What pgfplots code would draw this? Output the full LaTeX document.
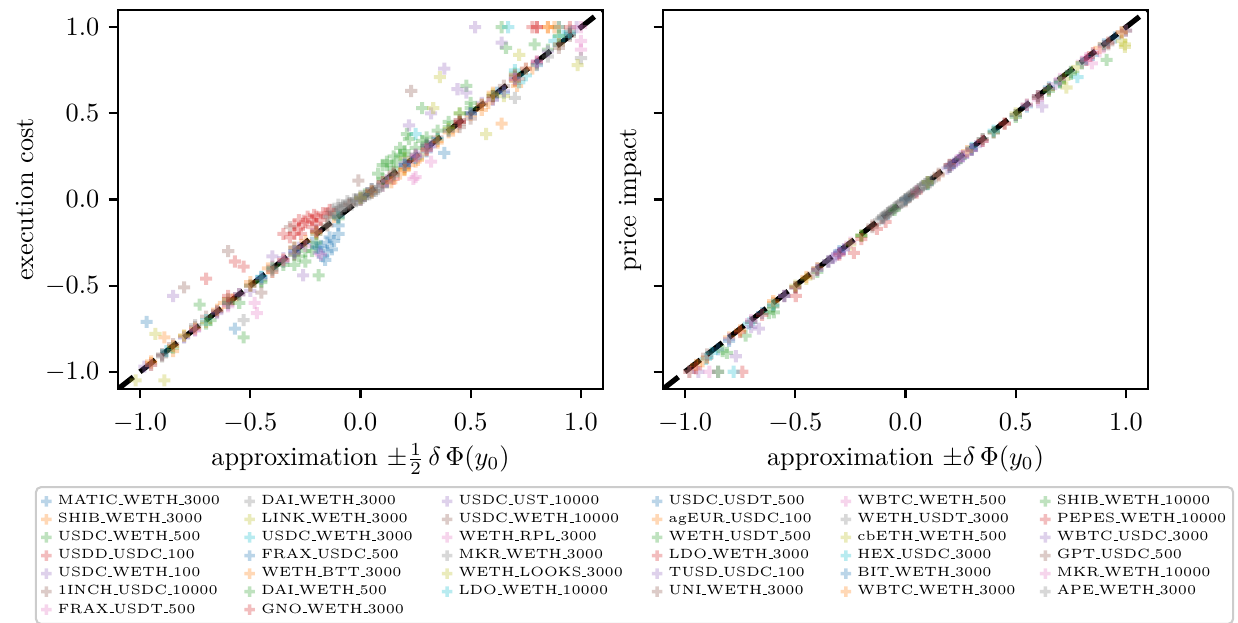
\documentclass[border=0pt]{standalone}
\usepackage{pgfplots}
\pgfplotsset{compat=1.18}
\DeclareRobustCommand{\_}{\leavevmode\kern.06em\vbox{\hrule width.3em}}
\definecolor{tabblue}{HTML}{1F77B4}
\definecolor{taborange}{HTML}{FF7F0E}
\definecolor{tabgreen}{HTML}{2CA02C}
\definecolor{tabred}{HTML}{D62728}
\definecolor{tabpurple}{HTML}{9467BD}
\definecolor{tabbrown}{HTML}{8C564B}
\definecolor{tabpink}{HTML}{E377C2}
\definecolor{tabgray}{HTML}{7F7F7F}
\definecolor{tabolive}{HTML}{BCBD22}
\definecolor{tabcyan}{HTML}{17BECF}
\pgfdeclareplotmark{Pplus}{%
  \pgfpathmoveto{\pgfpoint{-0.333\pgfplotmarksize}{-\pgfplotmarksize}}%
  \pgfpathlineto{\pgfpoint{0.333\pgfplotmarksize}{-\pgfplotmarksize}}%
  \pgfpathlineto{\pgfpoint{0.333\pgfplotmarksize}{-0.333\pgfplotmarksize}}%
  \pgfpathlineto{\pgfpoint{\pgfplotmarksize}{-0.333\pgfplotmarksize}}%
  \pgfpathlineto{\pgfpoint{\pgfplotmarksize}{0.333\pgfplotmarksize}}%
  \pgfpathlineto{\pgfpoint{0.333\pgfplotmarksize}{0.333\pgfplotmarksize}}%
  \pgfpathlineto{\pgfpoint{0.333\pgfplotmarksize}{\pgfplotmarksize}}%
  \pgfpathlineto{\pgfpoint{-0.333\pgfplotmarksize}{\pgfplotmarksize}}%
  \pgfpathlineto{\pgfpoint{-0.333\pgfplotmarksize}{0.333\pgfplotmarksize}}%
  \pgfpathlineto{\pgfpoint{-\pgfplotmarksize}{0.333\pgfplotmarksize}}%
  \pgfpathlineto{\pgfpoint{-\pgfplotmarksize}{-0.333\pgfplotmarksize}}%
  \pgfpathlineto{\pgfpoint{-0.333\pgfplotmarksize}{-0.333\pgfplotmarksize}}%
  \pgfpathclose
  \pgfusepathqfill
}
\pgfplotsset{
  P/.style={only marks, mark=Pplus, mark size=2.3pt, color=#1, fill opacity=0.3, draw opacity=0.3},
  myax/.style={scale only axis, width=184.5pt, height=144.18pt,
    xmin=-1.1, xmax=1.1, ymin=-1.1, ymax=1.1,
    xtick={-1,-0.5,0,0.5,1}, ytick={-1,-0.5,0,0.5,1},
    tick align=outside, tick pos=left, major tick length=3.6pt,
    every tick/.append style={black, line width=0.8pt},
    axis line style={line width=0.8pt},
    xticklabel style={yshift=-2.3pt},
    /pgf/number format/fixed, /pgf/number format/fixed zerofill, /pgf/number format/precision=1},
  diag/.style={forget plot, black, line width=2pt, dash pattern=on 7.4pt off 3.2pt},
}
\begin{document}
\begin{tikzpicture}
\begin{axis}[name=L, at={(0pt,0pt)}, anchor=south west, myax,
  ylabel={execution cost},
  xlabel={approximation $\pm\frac{1}{2}\,\delta\,\Phi(y_0)$},
  ylabel style={at={(axis description cs:-0.192,0.5)}, anchor=center},
  xlabel style={at={(axis description cs:0.5,-0.203)}, anchor=base},
  legend columns=7, transpose legend,
  legend image code/.code={\draw[#1, mark size=2pt] plot coordinates {(0.13cm,0cm)};},
  legend style={at={(1.065,-0.256)}, anchor=north, font=\fontsize{5.1}{6}\selectfont,
    draw=black!20, line width=0.8pt, rounded corners=2pt, fill=white,
    inner xsep=2pt, inner ysep=2pt,
    /tikz/every even column/.append style={column sep=8.7pt},
    /tikz/every odd column/.append style={column sep=1.8pt},
    cells={anchor=west},
    nodes={inner sep=0.6pt, text height=4.1pt, text depth=1.57pt}},
]
\addplot[P=tabblue] coordinates {(-0.17,-0.33)(-0.15,-0.30)(-0.13,-0.29)(-0.18,-0.27)(-0.12,-0.24)(-0.16,-0.35)(-0.20,-0.28)(-0.10,-0.20)(-0.22,-0.25)(0.38,0.27)(0.05,0.06)(0.30,0.31)(0.60,0.58)(-0.50,-0.50)(0.90,0.90)(-0.80,-0.80)};
\addlegendentry{MATIC\_WETH\_3000}
\addplot[P=taborange] coordinates {(0.12,0.10)(0.18,0.15)(0.22,0.20)(0.15,0.12)(0.25,0.22)(0.64,0.44)(0.71,0.66)(-0.89,-0.80)(-0.85,-0.88)(-0.50,-0.48)(-0.30,-0.28)(0.85,1.00)(0.50,0.49)(-0.70,-0.71)(-0.95,-0.94)(-0.80,-0.79)(-0.62,-0.60)(-0.42,-0.40)(-0.12,-0.10)(0.05,0.04)(0.35,0.33)(0.42,0.40)(0.58,0.56)(0.78,0.76)};
\addlegendentry{SHIB\_WETH\_3000}
\addplot[P=tabgreen] coordinates {(0.10,0.20)(0.15,0.25)(0.20,0.28)(0.12,0.22)(0.18,0.30)(0.22,0.35)(0.28,0.53)(0.21,0.38)(0.08,0.15)(-0.28,-0.33)(-0.25,-0.36)(-0.30,-0.38)(-0.22,-0.30)(-0.19,-0.44)(0.64,1.00)(0.66,0.88)(0.40,0.45)(-0.60,-0.60)(-0.90,-0.91)(-0.70,-0.72)(-0.45,-0.48)(0.02,0.03)(0.30,0.33)(0.50,0.53)(0.70,0.73)(0.85,0.87)};
\addlegendentry{USDC\_WETH\_500}
\addplot[P=tabred] coordinates {(-0.30,-0.15)(-0.25,-0.13)(-0.20,-0.10)(-0.22,-0.16)(-0.27,-0.20)(-0.18,-0.12)(-0.15,-0.08)(-0.32,-0.22)(-0.70,-0.46)(-0.57,-0.36)(-0.53,-0.39)(0.80,1.00)(0.10,0.10)};
\addlegendentry{USDD\_USDC\_100}
\addplot[P=tabpurple] coordinates {(0.52,1.00)(0.64,0.91)(0.38,0.76)(0.44,0.64)(0.22,0.43)(0.32,0.50)(-0.85,-0.56)(-0.26,-0.44)(-0.40,-0.33)(-0.19,-0.31)(0.25,0.24)(0.30,0.30)(-0.35,-0.34)(-0.50,-0.53)(-0.98,-0.97)(-0.75,-0.76)(-0.60,-0.61)(-0.30,-0.30)(-0.28,-0.28)(0.20,0.20)(0.22,0.22)(0.33,0.33)(0.55,0.56)(0.75,0.76)};
\addlegendentry{USDC\_WETH\_100}
\addplot[P=tabbrown] coordinates {(-0.60,-0.30)(-0.80,-0.51)(-0.32,-0.16)(0.23,0.63)(-0.01,0.11)(-0.45,-0.54)(0.00,0.00)(0.50,0.50)(-0.70,-0.68)(0.95,0.95)(0.45,0.42)(-0.90,-0.90)(-0.40,-0.39)(-0.20,-0.19)(0.15,0.16)(0.30,0.31)(0.65,0.66)(0.80,0.79)};
\addlegendentry{1INCH\_USDC\_10000}
\addplot[P=tabpink] coordinates {(-0.47,-0.66)(0.32,0.22)(0.25,0.13)(1.00,0.87)(-0.18,-0.32)(-0.60,-0.62)(0.10,0.08)(0.60,0.58)(-0.90,-0.91)};
\addlegendentry{FRAX\_USDT\_500}
\addplot[P=tabgray] coordinates {(-0.10,-0.05)(-0.08,-0.04)(-0.05,-0.02)(-0.12,-0.08)(-0.03,0.00)(0.00,0.02)(0.03,0.03)(0.06,0.05)(-0.53,-0.70)(0.70,0.59)(1.00,0.82)(-0.15,-0.10)(0.10,0.08)(-0.90,-0.90)(-0.06,-0.03)(-0.02,0.00)(0.02,0.02)(0.05,0.04)(0.08,0.07)(-0.09,-0.05)(-0.11,-0.07)(0.12,0.11)};
\addlegendentry{DAI\_WETH\_3000}
\addplot[P=tabolive] coordinates {(0.36,0.71)(0.57,0.38)(0.985,0.78)(0.72,0.84)(-0.93,-0.78)(-0.89,-1.05)(-1.02,-1.05)(0.33,0.53)(0.20,0.18)(-0.40,-0.40)(0.90,1.00)(0.28,0.26)};
\addlegendentry{LINK\_WETH\_3000}
\addplot[P=tabcyan] coordinates {(0.25,0.38)(0.67,1.00)(0.90,0.95)(0.75,0.72)(0.25,0.24)(-0.20,-0.20)(0.00,0.00)(0.50,0.50)(0.30,0.28)};
\addlegendentry{USDC\_WETH\_3000}
\addplot[P=tabblue] coordinates {(-0.97,-0.71)(-0.57,-0.75)(0.12,0.10)(0.40,0.40)(0.65,0.62)(0.90,1.00)(-0.60,-0.58)(-0.30,-0.30)};
\addlegendentry{FRAX\_USDC\_500}
\addplot[P=taborange] coordinates {(0.85,1.00)(0.60,0.62)(0.30,0.29)(-0.20,-0.20)(-0.60,-0.58)(-0.95,-0.96)(0.00,0.00)(0.45,0.46)};
\addlegendentry{WETH\_BTT\_3000}
\addplot[P=tabgreen] coordinates {(-0.53,-0.80)(0.48,0.66)(0.79,0.90)(-0.73,-0.61)(0.25,0.30)(0.30,0.36)(-0.30,-0.32)(0.10,0.12)(-0.10,-0.11)(0.60,0.60)(-0.85,-0.86)(-0.45,-0.47)(0.15,0.18)(0.40,0.42)(0.70,0.71)(0.95,0.96)};
\addlegendentry{DAI\_WETH\_500}
\addplot[P=tabred] coordinates {(-0.30,-0.20)(-0.28,-0.12)(-0.24,-0.10)(-0.20,-0.14)(-0.17,-0.08)(0.80,1.00)(0.60,0.60)(0.20,0.19)(-0.50,-0.50)};
\addlegendentry{GNO\_WETH\_3000}
\addplot[P=tabpurple] coordinates {(0.48,0.62)(0.30,0.32)(-0.40,-0.42)(-0.65,-0.65)(0.95,0.96)(0.00,0.00)};
\addlegendentry{USDC\_UST\_10000}
\addplot[P=tabbrown] coordinates {(0.60,0.60)(0.80,0.80)(0.35,0.36)(-0.30,-0.32)(-0.75,-0.74)(0.10,0.10)(0.95,0.98)(-0.55,-0.55)(-0.10,-0.10)(0.25,0.26)(0.45,0.45)(0.70,0.69)};
\addlegendentry{USDC\_WETH\_10000}
\addplot[P=tabpink] coordinates {(0.24,0.12)(0.15,0.12)(-0.20,-0.18)(0.50,0.50)(0.80,0.80)(-0.80,-0.80)(1.00,0.92)};
\addlegendentry{WETH\_RPL\_3000}
\addplot[P=tabgray] coordinates {(-0.10,-0.03)(-0.06,-0.01)(-0.02,0.00)(0.02,0.02)(0.05,0.04)(-0.13,-0.06)(0.55,0.55)(-0.75,-0.73)(0.85,0.83)(-0.35,-0.36)};
\addlegendentry{MKR\_WETH\_3000}
\addplot[P=tabolive] coordinates {(0.65,0.60)(0.90,0.95)(-0.50,-0.50)(0.20,0.24)(-0.15,-0.15)(0.45,0.50)};
\addlegendentry{WETH\_LOOKS\_3000}
\addplot[P=tabcyan] coordinates {(0.70,0.75)(0.95,0.97)(-0.70,-0.70)(0.20,0.20)(-0.10,-0.10)(0.88,0.92)};
\addlegendentry{LDO\_WETH\_10000}
\addlegendimage{empty legend}\addlegendentry{}
\addplot[P=tabblue] coordinates {(-0.14,-0.22)(-0.10,-0.15)(-0.19,-0.28)(0.62,0.62)(-0.45,-0.45)(0.20,0.20)};
\addlegendentry{USDC\_USDT\_500}
\addplot[P=taborange] coordinates {(-0.58,-0.58)(0.15,0.14)(0.75,0.76)(-0.95,-0.95)(0.40,0.39)(-0.25,-0.24)(-0.75,-0.75)(-0.35,-0.35)(0.05,0.05)(0.55,0.55)(0.90,0.90)};
\addlegendentry{agEUR\_USDC\_100}
\addplot[P=tabgreen] coordinates {(0.16,0.22)(0.20,0.26)(0.28,0.34)(-0.25,-0.30)(-0.20,-0.25)(0.50,0.56)(-0.68,-0.70)};
\addlegendentry{WETH\_USDT\_500}
\addplot[P=tabred] coordinates {(-0.26,-0.14)(-0.22,-0.12)(-0.14,-0.06)(0.30,0.29)(0.78,1.00)(0.70,0.72)};
\addlegendentry{LDO\_WETH\_3000}
\addplot[P=tabpurple] coordinates {(-0.35,-0.36)(-0.30,-0.31)(0.20,0.21)(0.25,0.26)(-0.55,-0.55)(-0.95,-0.96)(-0.65,-0.66)(-0.15,-0.15)(0.45,0.46)(0.70,0.70)(0.85,0.86)};
\addlegendentry{TUSD\_USDC\_100}
\addplot[P=tabbrown] coordinates {(0.05,0.06)(-0.05,-0.03)(0.45,0.44)(-0.60,-0.60)(0.72,0.70)(-0.85,-0.84)};
\addlegendentry{UNI\_WETH\_3000}
\addlegendimage{empty legend}\addlegendentry{}
\addplot[P=tabpink] coordinates {(0.30,0.28)(-0.25,-0.27)(0.80,0.80)(-0.48,-0.60)(0.12,0.11)};
\addlegendentry{WBTC\_WETH\_500}
\addplot[P=tabgray] coordinates {(-0.09,-0.06)(-0.04,-0.03)(0.00,0.01)(0.04,0.03)(0.08,0.06)(-0.11,-0.09)(0.30,0.30)(-0.60,-0.60)};
\addlegendentry{WETH\_USDT\_3000}
\addplot[P=tabolive] coordinates {(0.00,0.01)(0.40,0.41)(-0.80,-0.79)(0.60,0.61)(-0.30,-0.28)};
\addlegendentry{cbETH\_WETH\_500}
\addplot[P=tabcyan] coordinates {(0.72,0.68)(0.35,0.35)(-0.45,-0.45)(0.92,0.95)(-0.88,-0.88)};
\addlegendentry{HEX\_USDC\_3000}
\addplot[P=tabblue] coordinates {(0.50,0.50)(-0.15,-0.25)(0.15,0.14)(-0.40,-0.40)(0.80,0.78)};
\addlegendentry{BIT\_WETH\_3000}
\addplot[P=taborange] coordinates {(0.20,0.17)(0.14,0.10)(0.26,0.23)(-0.40,-0.42)(0.88,1.00)(0.55,0.52)(-0.65,-0.64)(-0.20,-0.19)(0.35,0.34)(0.70,0.69)(-0.85,-0.85)};
\addlegendentry{WBTC\_WETH\_3000}
\addlegendimage{empty legend}\addlegendentry{}
\addplot[P=tabgreen] coordinates {(0.12,0.20)(0.18,0.26)(0.35,0.40)(-0.35,-0.38)(0.45,0.50)(-0.55,-0.60)};
\addlegendentry{SHIB\_WETH\_10000}
\addplot[P=tabred] coordinates {(-0.35,-0.20)(-0.28,-0.17)(-0.21,-0.09)(0.45,0.45)(0.95,1.00)(-0.60,-0.56)};
\addlegendentry{PEPES\_WETH\_10000}
\addplot[P=tabpurple] coordinates {(0.32,0.31)(0.26,0.25)(-0.45,-0.46)(0.65,0.63)(-0.30,-0.28)(0.98,1.00)};
\addlegendentry{WBTC\_USDC\_3000}
\addplot[P=tabbrown] coordinates {(0.15,0.15)(-0.20,-0.18)(0.50,0.47)(-0.65,-0.65)(0.90,0.88)};
\addlegendentry{GPT\_USDC\_500}
\addplot[P=tabpink] coordinates {(0.25,0.25)(-0.35,-0.35)(0.70,0.70)(-0.75,-0.76)(1.00,1.00)};
\addlegendentry{MKR\_WETH\_10000}
\addplot[P=tabgray] coordinates {(-0.07,-0.04)(-0.02,-0.01)(0.01,0.01)(0.07,0.05)(-0.14,-0.10)(0.40,0.40)(-0.40,-0.41)};
\addlegendentry{APE\_WETH\_3000}
\addplot[diag] coordinates {(-1.1,-1.1)(1.1,1.1)};
\end{axis}
\begin{axis}[name=R, at={(207.33pt,0pt)}, anchor=south west, myax,
  yticklabels={},
  ylabel={price impact},
  xlabel={approximation $\pm\delta\,\Phi(y_0)$},
  ylabel style={at={(axis description cs:-0.068,0.5)}, anchor=center},
  xlabel style={at={(axis description cs:0.5,-0.203)}, anchor=base},
]
\addplot[P=tabblue] coordinates {(-0.50,-0.51)(-0.10,-0.11)(0.30,0.29)(0.70,0.68)(0.95,0.94)(-0.85,-0.87)(-0.70,-0.71)(-0.30,-0.31)(0.10,0.09)(0.50,0.49)};
\addplot[P=taborange] coordinates {(-0.98,-1.00)(-0.60,-0.60)(-0.20,-0.21)(0.40,0.39)(0.92,0.91)(0.65,0.64)(-0.80,-0.80)(-0.40,-0.40)(0.00,0.00)(0.20,0.19)(0.80,0.79)};
\addplot[P=tabgreen] coordinates {(-0.81,-0.89)(-0.725,-0.79)(-0.40,-0.42)(0.10,0.09)(0.50,0.48)(0.912,0.81)(-0.60,-0.62)(-0.20,-0.21)(0.30,0.29)(0.70,0.68)};
\addplot[P=tabred] coordinates {(-0.498,-0.56)(-0.234,-0.31)(-0.13,-0.17)(-0.09,-0.13)(-0.74,-1.00)(0.60,0.59)};
\addplot[P=tabpurple] coordinates {(0.20,0.19)(0.22,0.21)(0.25,0.24)(0.28,0.27)(-0.30,-0.31)(-0.33,-0.34)(-0.80,-0.81)(-0.94,-1.00)(1.00,0.98)(0.19,0.18)(0.21,0.20)(0.23,0.22)(0.26,0.25)(0.30,0.29)(0.32,0.31)(-0.35,-0.36)(-0.31,-0.32)(-0.28,-0.29)(0.40,0.39)};
\addplot[P=tabbrown] coordinates {(1.00,0.98)(0.50,0.49)(-0.50,-0.51)(0.00,-0.01)(-0.90,-0.92)};
\addplot[P=tabpink] coordinates {(0.845,0.79)(0.30,0.29)(-0.89,-1.00)(-0.30,-0.31)(0.80,0.80)};
\addplot[P=tabgray] coordinates {(-0.12,-0.12)(-0.09,-0.09)(-0.06,-0.06)(-0.03,-0.03)(0.00,0.00)(0.03,0.03)(0.06,0.06)(0.09,0.09)(0.12,0.11)(-0.60,-0.62)(-0.105,-0.105)(-0.075,-0.075)(-0.045,-0.045)(-0.015,-0.015)(0.015,0.015)(0.045,0.045)(0.075,0.075)(0.105,0.10)};
\addplot[P=tabolive] coordinates {(0.995,0.886)(0.73,0.65)(-0.45,-0.46)(0.15,0.14)(0.995,0.90)};
\addplot[P=tabcyan] coordinates {(-0.906,-0.925)(-0.71,-0.72)(-0.78,-1.00)(0.78,0.71)(0.30,0.30)};
\addplot[P=tabblue] coordinates {(-0.30,-0.30)(0.55,0.54)(-0.65,-0.66)(0.85,0.84)};
\addplot[P=taborange] coordinates {(-0.92,-0.94)(0.20,0.20)(0.75,0.74)(-0.45,-0.45)};
\addplot[P=tabgreen] coordinates {(-0.597,-0.655)(0.40,0.39)(-0.85,-1.00)(0.70,0.69)(-0.20,-0.21)};
\addplot[P=tabred] coordinates {(-0.55,-0.56)(0.10,0.10)(0.82,0.81)(-0.30,-0.32)};
\addplot[P=tabpurple] coordinates {(-0.665,-0.75)(-0.77,-0.91)(0.62,0.54)(0.35,0.34)(-0.98,-1.00)};
\addplot[P=tabbrown] coordinates {(0.90,0.89)(-0.15,-0.16)(0.45,0.44)(-0.70,-0.71)(-0.40,-0.40)(0.20,0.20)(0.65,0.64)(-0.90,-0.90)};
\addplot[P=tabpink] coordinates {(0.82,0.82)(-0.55,-0.56)(0.15,0.14)(0.60,0.58)};
\addplot[P=tabgray] coordinates {(-0.11,-0.11)(-0.08,-0.08)(-0.04,-0.04)(-0.01,-0.01)(0.02,0.02)(0.05,0.05)(0.08,0.08)(0.11,0.10)(-0.85,-1.00)};
\addplot[P=tabolive] coordinates {(0.72,0.70)(-0.25,-0.26)(0.98,0.92)(0.50,0.50)};
\addplot[P=tabcyan] coordinates {(0.75,0.74)(-0.88,-0.89)(0.10,0.10)};
\addplot[P=tabblue] coordinates {(-0.40,-0.41)(0.20,0.19)(0.60,0.60)};
\addplot[P=taborange] coordinates {(-0.60,-0.59)(0.35,0.35)(-0.95,-0.96)(0.88,0.88)};
\addplot[P=tabgreen] coordinates {(-0.62,-0.66)(0.25,0.24)(0.75,0.73)};
\addplot[P=tabred] coordinates {(-0.20,-0.23)(0.45,0.44)(0.85,0.85)(-0.75,-0.77)(-0.50,-0.51)(0.05,0.04)(0.60,0.60)};
\addplot[P=tabpurple] coordinates {(-0.35,-0.36)(-0.28,-0.29)(0.24,0.23)(0.30,0.29)(-0.70,-0.74)(0.92,0.91)};
\addplot[P=tabbrown] coordinates {(0.55,0.55)(-0.15,-0.15)(0.98,0.97)};
\addplot[P=tabpink] coordinates {(-0.40,-0.41)(0.05,0.05)(0.82,0.81)(-0.70,-0.70)(0.25,0.25)(0.55,0.55)};
\addplot[P=tabgray] coordinates {(-0.10,-0.10)(-0.07,-0.07)(-0.02,-0.02)(0.01,0.01)(0.04,0.04)(0.07,0.07)(0.10,0.10)(0.60,0.59)};
\addplot[P=tabolive] coordinates {(0.78,0.77)(-0.50,-0.50)(0.10,0.10)};
\addplot[P=tabcyan] coordinates {(0.40,0.40)(-0.60,-0.61)(0.80,0.79)};
\addplot[P=tabblue] coordinates {(0.00,0.00)(-0.80,-0.82)(0.65,0.65)(-0.55,-0.56)(0.35,0.35)(0.90,0.90)};
\addplot[P=taborange] coordinates {(-0.75,-0.76)(0.28,0.28)(0.98,0.97)};
\addplot[P=tabgreen] coordinates {(-0.83,-0.88)(0.65,0.63)(-0.05,-0.06)};
\addplot[P=tabred] coordinates {(0.35,0.34)(-0.65,-0.67)(-0.95,-0.98)};
\addplot[P=tabpurple] coordinates {(0.20,0.20)(0.26,0.25)(-0.32,-0.33)(0.68,0.67)};
\addplot[P=tabbrown] coordinates {(-0.42,-0.43)(0.92,0.90)(0.15,0.15)};
\addplot[P=tabpink] coordinates {(0.70,0.70)(-0.25,-0.25)(0.88,0.86)};
\addplot[P=tabgray] coordinates {(-0.08,-0.08)(-0.05,-0.05)(0.00,0.00)(0.03,0.03)(0.06,0.06)(0.09,0.09)(-0.35,-0.36)};
\addplot[diag] coordinates {(-1.1,-1.1)(1.1,1.1)};
\end{axis}
\pgfresetboundingbox
\path (-44.89pt,-89.02pt) rectangle (426.06pt,147.98pt);
\end{tikzpicture}
\end{document}
